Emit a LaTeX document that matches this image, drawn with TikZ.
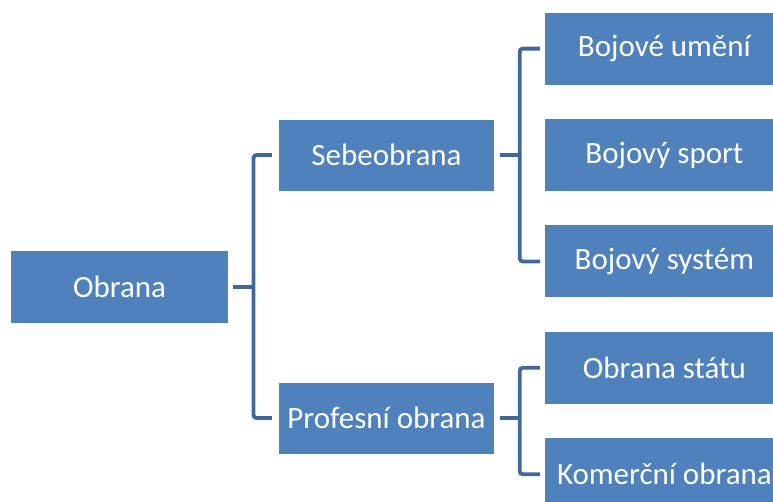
\documentclass[tikz,border=0pt]{standalone}
\usepackage{fontspec}
\setmainfont{Carlito}
\usetikzlibrary{positioning, calc}
\definecolor{boxblue}{HTML}{4F81BD}
\definecolor{linkblue}{HTML}{41689C}

\begin{document}
\begin{tikzpicture}[
        x=1pt, y=-1pt,
        node distance=34pt and 51pt,
        box/.style={fill=boxblue, text=white, inner sep=0pt, font=\fontsize{31}{37}\selectfont},
        midbox/.style={box, minimum width=215pt, minimum height=71pt},
        leafbox/.style={box, minimum width=238pt, minimum height=72pt},
        conn/.style={draw=linkblue, line width=3.8pt, rounded corners=3pt}
        ]
        \useasboundingbox (0,0) rectangle (773,501);
        \clip (0,0) rectangle (773,501);
        % Nodes
        \node[box, minimum width=217pt, minimum height=72pt] (obrana) at (119.5,287) {Obrana};
        \node[midbox] (sebe) at (386.5,155) {Sebeobrana};
        \node[midbox] (prof) at (386.5,418) {Profesní obrana};
        \node[leafbox, right=51pt of sebe] (sport) {Bojový sport};
        \node[leafbox, above=of sport] (umeni) {Bojové umění};
        \node[leafbox, below=of sport] (system) {Bojový systém};
        \node[leafbox, below=of system] (statu) {Obrana státu};
        \node[leafbox, below=of statu] (komercni) {Komerční obrana};

        % Forks
        \coordinate (fork1) at ($(obrana.east)!.5!(obrana.east -| sebe.west)$);
        \coordinate (fork2) at ($(sebe.east)!.5!(sport.west)$);
        \coordinate (fork3) at ($(prof.east)!.5!(prof.east -| statu.west)$);

        % Connectors
        \draw[conn] ([xshift=5pt]obrana.east) -- (fork1);
        \draw[conn] ([xshift=-7pt]sebe.west) -| (fork1) |- ([xshift=-7pt]prof.west);
        \draw[conn] ([xshift=6pt]sebe.east) -- (fork2);
        \draw[conn] ([xshift=-5pt]umeni.west) -| (fork2) |- ([xshift=-5pt]system.west);
        \draw[conn] ([xshift=6pt]prof.east) -- (fork3);
        \draw[conn] ([xshift=-5pt]statu.west) -| (fork3) |- ([xshift=-5pt]komercni.west);
    \end{tikzpicture}
\end{document}
